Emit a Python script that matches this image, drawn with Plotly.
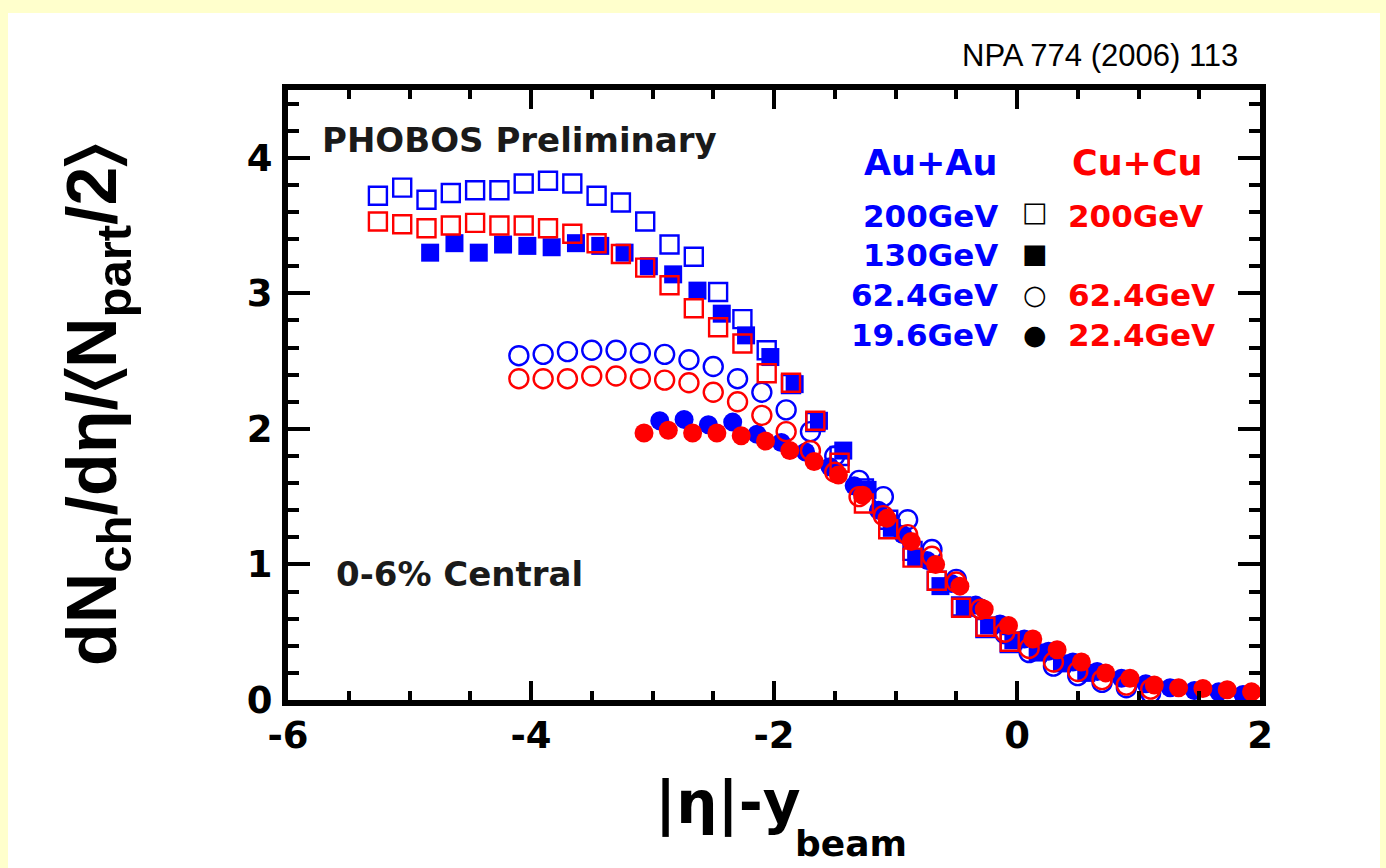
import plotly.graph_objects as go

# PHOBOS dNch/deta per participant pair vs |eta|-y_beam, 0-6% central

au200_x = [-5.26, -5.06, -4.86, -4.66, -4.46, -4.26, -4.06, -3.86, -3.66, -3.46, -3.26, -3.06, -2.86, -2.66,
           -2.46, -2.26, -2.06, -1.86, -1.66, -1.46, -1.26, -1.06, -0.86, -0.66, -0.46, -0.26, -0.06]
au200_y = [3.72, 3.78, 3.69, 3.74, 3.76, 3.76, 3.81, 3.83, 3.81, 3.72, 3.67, 3.53, 3.36, 3.27,
           3.01, 2.81, 2.58, 2.33, 2.05, 1.80, 1.56, 1.33, 1.10, 0.88, 0.69, 0.53, 0.42]

au130_x = [-4.83, -4.63, -4.43, -4.23, -4.03, -3.83, -3.63, -3.43, -3.23, -3.03, -2.83, -2.63, -2.43, -2.23,
           -2.03, -1.83, -1.63, -1.43, -1.23, -1.03, -0.83, -0.63, -0.43, -0.23, -0.03, 0.17, 0.37, 0.57]
au130_y = [3.30, 3.37, 3.30, 3.36, 3.35, 3.34, 3.37, 3.35, 3.30, 3.20, 3.14, 3.02, 2.85, 2.69,
           2.53, 2.33, 2.06, 1.84, 1.55, 1.27, 1.05, 0.84, 0.68, 0.55, 0.44, 0.35, 0.27, 0.20]

au62_x = [-4.10, -3.90, -3.70, -3.50, -3.30, -3.10, -2.90, -2.70, -2.50, -2.30, -2.10, -1.90, -1.70, -1.50,
          -1.30, -1.10, -0.90, -0.70, -0.50, -0.30, -0.10, 0.10, 0.30, 0.50, 0.70, 0.90, 1.10]
au62_y = [2.54, 2.55, 2.57, 2.58, 2.58, 2.56, 2.55, 2.51, 2.46, 2.37, 2.27, 2.14, 1.98, 1.80,
          1.62, 1.50, 1.33, 1.11, 0.89, 0.67, 0.49, 0.35, 0.25, 0.18, 0.13, 0.09, 0.05]

au19_x = [-2.94, -2.74, -2.54, -2.34, -2.14, -1.94, -1.74, -1.54, -1.34, -1.14, -0.94, -0.74, -0.54,
          -0.34, -0.14, 0.06, 0.26, 0.46, 0.66, 0.86, 1.06, 1.26, 1.46, 1.66, 1.86]
au19_y = [2.06, 2.07, 2.03, 2.05, 1.96, 1.90, 1.83, 1.72, 1.58, 1.40, 1.22, 1.03, 0.86,
          0.70, 0.56, 0.45, 0.36, 0.28, 0.21, 0.16, 0.12, 0.09, 0.07, 0.06, 0.04]

cu200_x = au200_x
cu200_y = [3.53, 3.51, 3.48, 3.50, 3.52, 3.50, 3.50, 3.48, 3.44, 3.37, 3.29, 3.19, 3.06, 2.89,
           2.75, 2.63, 2.41, 2.34, 2.06, 1.75, 1.45, 1.26, 1.05, 0.88, 0.68, 0.54, 0.43]

cu62_x = au62_x
cu62_y = [2.37, 2.37, 2.37, 2.39, 2.39, 2.37, 2.36, 2.34, 2.27, 2.20, 2.10, 1.98, 1.84, 1.68,
          1.50, 1.36, 1.22, 1.06, 0.87, 0.67, 0.50, 0.38, 0.28, 0.21, 0.15, 0.11, 0.08]

cu22_x = [-3.07, -2.87, -2.67, -2.47, -2.27, -2.07, -1.87, -1.67, -1.47, -1.27, -1.07, -0.87, -0.67,
          -0.47, -0.27, -0.07, 0.13, 0.33, 0.53, 0.73, 0.93, 1.13, 1.33, 1.53, 1.73, 1.93]
cu22_y = [1.97, 1.99, 1.97, 1.97, 1.95, 1.91, 1.84, 1.76, 1.66, 1.51, 1.34, 1.17, 1.00,
          0.84, 0.67, 0.55, 0.45, 0.37, 0.28, 0.20, 0.16, 0.11, 0.09, 0.085, 0.075, 0.06]

x_ticks = [-6, -4, -2, 0, 2]
x_ticklabels = ["-6", "-4", "-2", "0", "2"]
y_ticks = [0, 1, 2, 3, 4]
y_ticklabels = ["0", "1", "2", "3", "4"]

au_labels = ["200GeV", "130GeV", "62.4GeV", "19.6GeV"]
cu_labels = ["200GeV", "", "62.4GeV", "22.4GeV"]
key_symbols = ["\u25a1", "\u25a0", "\u25cb", "\u25cf"]

BLUE = "#0000FF"
RED = "#FF0000"
FONT = "Liberation Sans, Arial, sans-serif"
WIDE = "DejaVu Sans, sans-serif"

# plot area in page pixels
L, R, T, B = 288, 1260, 90, 700


def px(x):
    return (x - L) / (R - L)


def py(y):
    return (B - y) / (B - T)


fig = go.Figure()

series = [
    (au200_x, au200_y, BLUE, "square-open", 18),
    (au130_x, au130_y, BLUE, "square", 18),
    (au62_x, au62_y, BLUE, "circle-open", 19),
    (au19_x, au19_y, BLUE, "circle", 19),
    (cu200_x, cu200_y, RED, "square-open", 18),
    (cu62_x, cu62_y, RED, "circle-open", 19),
    (cu22_x, cu22_y, RED, "circle", 19),
]
for xs, ys, col, sym, sz in series:
    fig.add_trace(go.Scatter(
        x=xs, y=ys, mode="markers",
        marker=dict(symbol=sym, size=sz, color=col,
                    line=dict(color=col, width=2.4 if "open" in sym else 0)),
        showlegend=False,
    ))


def note(text, x, y, size, color="black", family=WIDE, bold=True, xanchor="center", **kw):
    return dict(text=text, x=px(x), y=py(y), xref="paper", yref="paper", showarrow=False,
                xanchor=xanchor, yanchor="middle",
                font=dict(family=family, size=size, color=color,
                          weight="bold" if bold else "normal"), **kw)


ann = [
    note("NPA 774 (2006) 113", 1100, 55, 31, family=FONT, bold=False),
    note("PHOBOS Preliminary", 320, 140, 34, color="#1a1a1a", xanchor="left"),
    note("0-6% Central", 334, 574, 34, color="#1a1a1a", xanchor="left"),
    note("Au+Au", 930, 163, 35, color=BLUE),
    note("Cu+Cu", 1137, 163, 35, color=RED),
]

row_y = [216, 255, 295, 335]
key_y = [212, 253, 294, 334]
for i in range(4):
    ann.append(note(au_labels[i], 1000, row_y[i], 31, color=BLUE, xanchor="right"))
    ann.append(note(key_symbols[i], 1035, key_y[i], 27, bold=False))
    if cu_labels[i]:
        ann.append(note(cu_labels[i], 1066, row_y[i], 31, color=RED, xanchor="left"))

# axis titles
ann.append(note("|\u03b7|-y", 728, 803, 58))
ann.append(note("beam", 793, 843, 36, xanchor="left"))
ann.append(note("dN<sub>ch</sub>/d\u03b7/\u2329N<sub>part</sub>/2\u232a", 97, 405, 70,
                family=FONT, textangle=-90))

fig.update_layout(
    width=1386, height=868,
    margin=dict(l=L, r=1386 - R, t=T, b=868 - B, pad=0),
    paper_bgcolor="#FFFFCC",
    plot_bgcolor="white",
    annotations=ann,
    shapes=[dict(type="rect", xref="paper", yref="paper", layer="below",
                 x0=px(8), x1=px(1380), y0=py(868), y1=py(13),
                 fillcolor="white", line=dict(width=0))],
)

axis_common = dict(
    showline=True, linewidth=6, linecolor="black", mirror="ticks",
    ticks="inside", tickwidth=4, tickcolor="black",
    showgrid=False, zeroline=False,
    tickfont=dict(family=WIDE, size=37, color="black", weight="bold"),
)
fig.update_xaxes(range=[-6, 2], tickvals=x_ticks, ticktext=x_ticklabels, ticklen=19,
                 minor=dict(dtick=0.5, ticklen=9, tickwidth=4, tickcolor="black", ticks="inside"),
                 ticklabelstandoff=-2, **axis_common)
fig.update_yaxes(range=[0, 4.5], tickvals=y_ticks, ticktext=y_ticklabels, ticklen=22,
                 minor=dict(dtick=0.2, ticklen=11, tickwidth=4, tickcolor="black", ticks="inside"),
                 ticklabelstandoff=2, **axis_common)

# page body has an 8px default margin; drop it so the figure sits at the window corner
fig.write_html("out.html", config={"displayModeBar": False},
               post_script="document.body.style.margin='0px';")
